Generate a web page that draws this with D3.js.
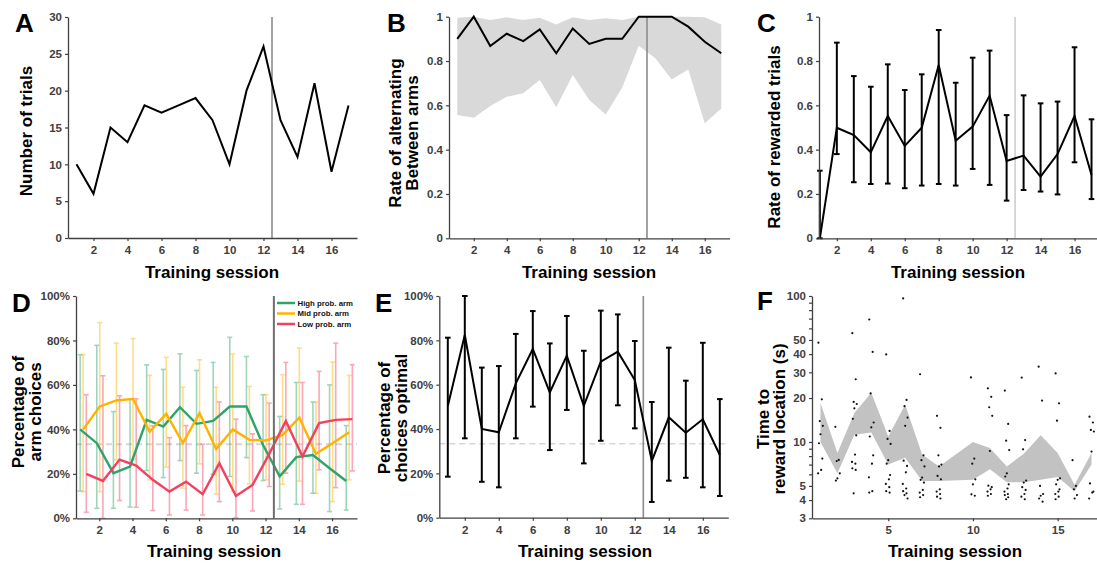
<!DOCTYPE html>
<html><head><meta charset="utf-8">
<script src="https://cdn.jsdelivr.net/npm/d3@7"></script>
<style>body{margin:0;background:#fff}svg{display:block}</style>
</head><body>
<svg id="c" width="1097" height="565"></svg>
<script>
// ---------- DATA ----------
const sessions = [1,2,3,4,5,6,7,8,9,10,11,12,13,14,15,16,17];
const xTicks = [2,4,6,8,10,12,14,16];
const phaseBoundary = 12.5;

// A: number of trials
const trials = [10,6,15,13,18,17,18,19,16,10,20,26,16,11,21,9,18];

// B: rate of alternating between arms
const altRate = [0.90,1.00,0.868,0.923,0.89,0.943,0.835,0.947,0.877,0.90,0.90,1.00,1.00,1.00,0.955,0.887,0.835];
const altLow  = [0.556,0.544,0.597,0.639,0.654,0.714,0.591,0.737,0.624,0.559,0.68,0.869,0.812,0.717,0.762,0.519,0.586];
const altHigh = [0.995,1.0,0.985,0.997,0.985,0.995,0.965,0.997,0.985,0.993,0.985,1.0,1.0,1.0,1.0,0.997,0.965];

// C: rate of rewarded trials
const rewMean = [0,0.499,0.466,0.388,0.552,0.417,0.499,0.782,0.44,0.504,0.644,0.349,0.373,0.278,0.38,0.552,0.286];
const rewLow  = [0,0.38,0.253,0.245,0.247,0.226,0.238,0.245,0.238,0.313,0.241,0.17,0.218,0.211,0.198,0.343,0.177];
const rewHigh = [0.305,0.883,0.732,0.684,0.785,0.669,0.74,0.94,0.702,0.815,0.847,0.556,0.645,0.609,0.617,0.862,0.537];

// D: percentage of arm choices
const highMean = [40,33.8,20.3,23.3,44.3,41.3,50,42.5,43.8,50.3,50.3,33,18.9,27.5,28.5,22.5,16.8];
const highLow  = [12.3,4.5,4.5,5.1,21.5,18.3,26,20.3,19.8,18.8,27.3,17,4.2,6.3,11.3,3,3.7];
const highHigh = [73.6,77.8,48,53.5,69,67,74,66.5,70.1,81.4,72.8,55.6,45.8,61.1,52.3,60,41.7];
const midMean  = [40,50.3,53,53.7,39,47,33.8,47.3,31.2,40,35.3,35,37.5,45.3,29,33.8,38.7];
const midLow   = [12,12,26.3,26.5,17.3,23,13.5,24.5,11,12.3,15.5,17.3,15.3,16.8,11.3,7.5,17.3];
const midHigh  = [73.6,88,78.8,80.8,64.3,72.4,59,71.3,58.9,73.9,59.3,55.6,64.6,76.6,52.3,70.3,64.3];
const lowMean  = [20,16.8,26.4,23.7,17.3,12,16.5,10.8,24.8,10,15,29,43.8,27.8,42.8,44.3,44.6];
const lowLow   = [2.7,0,8,5,3.5,1.5,3.7,1.5,7.5,0.3,3.3,14.3,20.3,6.3,21.8,13.8,21.3];
const lowHigh  = [55.6,64.1,55.1,53.8,41.6,36.3,41.7,33.3,52.3,44.6,38,51.8,70.1,61.1,66.1,78.8,69.1];
const armNames = ["High prob. arm","Mid prob. arm","Low prob. arm"];
const chance = 33.3;

// E: percentage of choices optimal
const optMean = [50.4,82.4,40,38.5,60.6,76.1,56.5,73.1,50.5,70.4,74.9,62.1,25.6,45.3,38.3,44.4,28.3];
const optLow  = [18.5,35.8,16.2,13.7,35.8,50.1,30.5,48.6,24.5,34.7,50.7,40.3,7.1,16.7,18,13.7,9.8];
const optHigh = [81.2,100,67.7,68.4,82.9,93.2,78.6,91,75.3,93.4,91.7,79.7,52.2,76.7,61.8,78.9,53.5];

// F: time to reward location (s), session 9 not recorded
const timeSessions = [1,2,3,4,5,6,7,8,10,11,12,13,14,15,16,17];
const timeLow  = [10,6.1,11.2,11.6,7,7.8,5.4,5.4,5.5,6.5,5.3,5.3,5.5,5.75,4.6,7];
const timeHigh = [18.5,8.4,15.8,21.7,10.9,18,8.2,6.8,10,9.1,6.8,8.3,11.1,8.4,5.1,8.4];
const timeDots = [
  [47.9,19.6,13.9,12.9,11.3,9.8,7.7,6.43,6.1],
  [12.7,7.53,7.4,6.1,5.64,5.44],
  [55.6,26.9,18.8,18.2,17.0,14.4,11.1,8.2,7.3,7.1,6.6,6.43,4.45],
  [69,41.4,21.5,13.6,12.6,10.9,8.1,7.1,5.73,4.6,4.5],
  [39.8,11.9,10.5,9.7,7.5,7.1,5.94,5.55,5.16,4.9,4.6,4.5],
  [96.3,19.4,17.6,14.7,12.9,7.45,6.85,6.2,5.16,4.8,4.6,4.45,4.33,4.1],
  [29.1,8.1,7.5,6.8,5.7,5.5,5.27,4.69,4.5,4.33,4.18],
  [15.1,12.5,8.1,7.0,6.8,5.85,5.55,4.74,4.57,4.4,4.22,4.1],
  [27.7,7.7,7.1,5.55,5.13,4.38,4.28],
  [23.3,20.4,17.3,15.1,8.67,5.02,4.9,4.74,4.57,4.4,4.28],
  [22.5,13.3,10.2,8.8,6.1,5.8,5.13,4.8,4.57,4.4,4.33,4.18,4.05],
  [27.6,10.3,8.9,5.44,5.27,4.9,4.69,4.4,4.22,4.05],
  [32.8,19.2,5.0,4.4,4.28,4.1,3.9],
  [29.5,18.4,14.0,5.64,5.5,5.13,4.74,4.57,4.4,4.22,4.05],
  [7.5,5.0,4.74,4.33,4.1],
  [14.9,13.6,12.1,11.8,8.6,5.2,4.57,4.5,4.1]
];
const logTicks = [3,4,5,6,7,8,9,10,20,30,40,50,60,70,80,90,100];
const logLabels = [3,4,5,10,20,30,40,50,100];

// ---------- DRAWING ----------
const svg = d3.select("#c");
const FONT = "'Liberation Sans', Arial, Helvetica, sans-serif";
const AX = "#404040";

function drawAxes(x, y, xt, yt, yfmt, xfmt) {
  const [x0] = x.range(); const [yb, yt0] = y.range();
  const gx = svg.append("g").attr("transform", `translate(0,${yb})`)
    .call(d3.axisBottom(x).tickValues(xt).tickSize(3).tickSizeOuter(0).tickPadding(5).tickFormat(xfmt || (d => d)));
  const gy = svg.append("g").attr("transform", `translate(${x0},0)`)
    .call(d3.axisLeft(y).tickValues(yt).tickSize(3).tickSizeOuter(0).tickPadding(3).tickFormat(yfmt));
  [gx, gy].forEach(g => {
    g.select(".domain").attr("stroke", AX).attr("stroke-width", 1.3);
    g.selectAll(".tick line").attr("stroke", AX).attr("stroke-width", 1.2);
    g.selectAll(".tick text").attr("fill", AX).style("font", `bold 11.5px ${FONT}`);
  });
}
function letter(t, x, yb) {
  svg.append("text").attr("x", x).attr("y", yb).text(t)
    .style("font", `bold 26px ${FONT}`).attr("fill", "#000");
}
function xTitle(cx, yb) {
  svg.append("text").attr("x", cx).attr("y", yb).attr("text-anchor", "middle")
    .text("Training session").style("font", `bold 17px ${FONT}`).attr("fill", "#000");
}
function yTitle(lines, xs, cy) {
  lines.forEach((l, i) => svg.append("text")
    .attr("transform", `translate(${xs[i]},${cy}) rotate(-90)`)
    .attr("text-anchor", "middle").attr("dominant-baseline", "central")
    .text(l).style("font", `bold 17px ${FONT}`).attr("fill", "#000"));
}
function vline(x, y, color, w) {
  svg.append("line").attr("x1", x(phaseBoundary)).attr("x2", x(phaseBoundary))
    .attr("y1", y.range()[1]).attr("y2", y.range()[0])
    .attr("stroke", color).attr("stroke-width", w);
}
function errBars(x, y, xs, lo, hi, color, w, cap, op) {
  const g = svg.append("g").attr("stroke", color).attr("stroke-width", w).attr("opacity", op || 1);
  xs.forEach((s, i) => {
    const px = x(s);
    g.append("line").attr("x1", px).attr("x2", px).attr("y1", y(lo[i])).attr("y2", y(hi[i]));
    g.append("line").attr("x1", px - cap).attr("x2", px + cap).attr("y1", y(lo[i])).attr("y2", y(lo[i]));
    g.append("line").attr("x1", px - cap).attr("x2", px + cap).attr("y1", y(hi[i])).attr("y2", y(hi[i]));
  });
}
function linePath(x, y, xs, vals, color, w) {
  svg.append("path").datum(vals.map((v, i) => [xs[i], v]))
    .attr("d", d3.line().x(d => x(d[0])).y(d => y(d[1])))
    .attr("fill", "none").attr("stroke", color).attr("stroke-width", w).attr("stroke-linejoin", "miter");
}
const fmt1 = d3.format(".1~f");
const pct = d => d + "%";

// ---- Panel A ----
{
  const x = d3.scaleLinear().domain([0.5, 17.5]).range([68, 357]);
  const y = d3.scaleLinear().domain([0, 30]).range([238, 17]);
  vline(x, y, "#8c8c8c", 1.6);
  linePath(x, y, sessions, trials, "#000", 2);
  drawAxes(x, y, xTicks, [0,5,10,15,20,25,30], d => d);
  letter("A", 15, 32);
  xTitle(212, 278);
  yTitle(["Number of trials"], [26], 131);
}
// ---- Panel B ----
{
  const x = d3.scaleLinear().domain([0.5, 17.5]).range([449, 729.5]);
  const y = d3.scaleLinear().domain([0, 1]).range([238.3, 16.7]);
  svg.append("path").datum(sessions.map((s, i) => [s, altLow[i], altHigh[i]]))
    .attr("d", d3.area().x(d => x(d[0])).y0(d => y(d[1])).y1(d => y(d[2])))
    .attr("fill", "#d9d9d9");
  vline(x, y, "#8c8c8c", 1.6);
  linePath(x, y, sessions, altRate, "#000", 2);
  drawAxes(x, y, xTicks, [0,0.2,0.4,0.6,0.8,1], fmt1);
  letter("B", 387, 32);
  xTitle(589, 278);
  yTitle(["Rate of alternating", "Between arms"], [395, 412], 133);
}
// ---- Panel C ----
{
  const x = d3.scaleLinear().domain([0.95, 17.5]).range([819, 1100]);
  const y = d3.scaleLinear().domain([0, 1]).range([238.3, 16.7]);
  vline(x, y, "#cfcfcf", 1.6);
  errBars(x, y, sessions, rewLow, rewHigh, "#000", 2, 2.8);
  linePath(x, y, sessions, rewMean, "#000", 2);
  drawAxes(x, y, xTicks, [0,0.2,0.4,0.6,0.8,1], fmt1);
  letter("C", 757, 32);
  xTitle(958, 278);
  yTitle(["Rate of rewarded trials"], [774], 137);
}
// ---- Panel D ----
{
  const x = d3.scaleLinear().domain([0.6, 17.5]).range([76, 357]);
  const y = d3.scaleLinear().domain([0, 100]).range([518.3, 296]);
  const colors = ["#2ea46a", "#ffb300", "#f2405e"];
  const offs = [-0.15, 0.03, 0.22];
  const means = [highMean, midMean, lowMean], lows = [highLow, midLow, lowLow], highs = [highHigh, midHigh, lowHigh];
  svg.append("line").attr("x1", x.range()[0]).attr("x2", x.range()[1]).attr("y1", y(chance)).attr("y2", y(chance))
    .attr("stroke", "#d6d6d6").attr("stroke-width", 2).attr("stroke-dasharray", "6,4");
  means.forEach((m, k) => {
    const xs = sessions.map(s => s + offs[k]);
    errBars(x, y, xs, lows[k], highs[k], colors[k], 1.6, 2.5, 0.45);
  });
  means.forEach((m, k) => {
    const xs = sessions.map(s => s + offs[k]);
    linePath(x, y, xs, m, colors[k], 2.4);
  });
  vline(x, y, "#6e6e6e", 2);
  drawAxes(x, y, xTicks, [0,20,40,60,80,100], pct);
  // legend
  armNames.forEach((n, k) => {
    const ly = 303 + k * 10.5;
    svg.append("line").attr("x1", 277).attr("x2", 295).attr("y1", ly).attr("y2", ly)
      .attr("stroke", colors[k]).attr("stroke-width", 2.5);
    svg.append("text").attr("x", 297.5).attr("y", ly).attr("dominant-baseline", "central")
      .text(n).style("font", `bold 7.8px ${FONT}`).attr("fill", "#111");
  });
  letter("D", 12, 312);
  xTitle(214, 557);
  yTitle(["Percentage of", "arm choices"], [18, 35], 412);
}
// ---- Panel E ----
{
  const x = d3.scaleLinear().domain([0.5, 17.5]).range([439.3, 728.3]);
  const y = d3.scaleLinear().domain([0, 100]).range([517.7, 296]);
  svg.append("line").attr("x1", x.range()[0]).attr("x2", x.range()[1]).attr("y1", y(chance)).attr("y2", y(chance))
    .attr("stroke", "#d6d6d6").attr("stroke-width", 1.5).attr("stroke-dasharray", "6,4");
  vline(x, y, "#8c8c8c", 1.6);
  errBars(x, y, sessions, optLow, optHigh, "#000", 2, 2.8);
  linePath(x, y, sessions, optMean, "#000", 2);
  drawAxes(x, y, xTicks, [0,20,40,60,80,100], pct);
  letter("E", 375, 312);
  xTitle(585, 557);
  yTitle(["Percentage of", "choices optimal"], [384, 401], 418);
}
// ---- Panel F ----
{
  const x = d3.scaleLinear().domain([0.5, 17.5]).range([812, 1100]);
  const y = d3.scaleLog().domain([3, 100]).range([518.3, 296]);
  svg.append("path").datum(timeSessions.map((s, i) => [s, timeLow[i], timeHigh[i]]))
    .attr("d", d3.area().x(d => x(d[0])).y0(d => y(d[1])).y1(d => y(d[2])))
    .attr("fill", "#c2c2c2");
  const jit = [-0.12, 0.08, -0.04, 0.14, 0.0, -0.09, 0.11, 0.04, -0.14, 0.06];
  const dg = svg.append("g").attr("fill", "#111");
  timeSessions.forEach((s, i) => {
    timeDots[i].forEach((v, j) => {
      dg.append("circle").attr("cx", x(s + jit[j % jit.length])).attr("cy", y(v)).attr("r", 1.1);
    });
  });
  drawAxes(x, y, [5,10,15], logTicks, d => logLabels.includes(d) ? d : "");
  letter("F", 757, 310);
  xTitle(955, 557);
  yTitle(["Time to", "reward location (s)"], [763, 779], 419);
}
</script>
</body></html>
